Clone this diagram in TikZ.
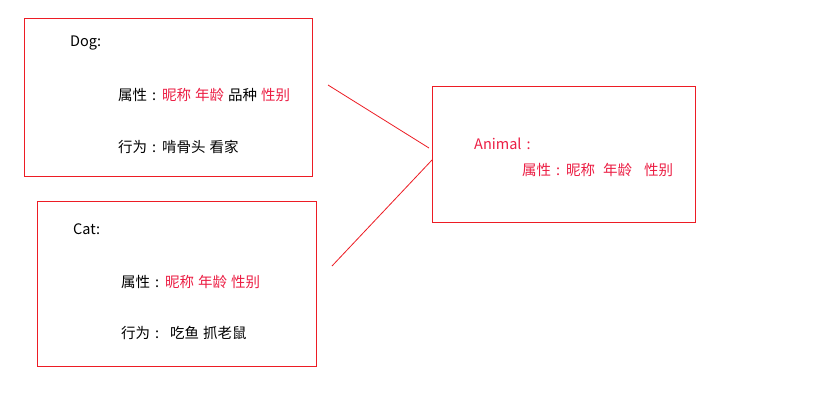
\documentclass[tikz,border=0pt]{standalone}
\usepackage{fontspec}
\setmainfont{Noto Sans CJK SC}
\usetikzlibrary{positioning}
\definecolor{boxred}{RGB}{237,28,36}
\definecolor{txtred}{RGB}{236,30,68}
\newcommand{\rd}[1]{\textcolor{txtred}{#1}}
\newcommand{\cn}{\hspace{5pt}:\hspace{6pt}}

\begin{document}
\begin{tikzpicture}[x=1pt,y=-1pt,
  class box/.style={draw=boxred,line width=1pt,anchor=north west,inner sep=0pt},
  label text/.style={anchor=west,inner sep=0pt,font=\fontsize{14.5}{17}\selectfont}]

  \useasboundingbox[fill=white] (0,0) rectangle (823,413);

  % class boxes
  \node[class box,minimum width=288pt,minimum height=158pt] (dog) at (24,18) {};
  \node[class box,minimum width=279pt,minimum height=165pt] (cat) at (37,201) {};
  \node[class box,minimum width=263pt,minimum height=136pt] (animal) at (432,86) {};

  % dog
  \node[label text] (dogname) at (70,43) {Dog:};
  \node[label text] (dogattr) at (118,95) {属性\cn\rd{昵称}\hspace{4pt}\rd{年龄}\hspace{4pt}品种\hspace{4pt}\rd{性别}};
  \node[label text] (dogact) at (118,147) {行为\cn 啃骨头\hspace{4pt}看家};

  % cat
  \node[label text] (catname) at (73,229) {Cat:};
  \node[label text] (catattr) at (121,282) {属性\cn\rd{昵称}\hspace{4pt}\rd{年龄}\hspace{4pt}\rd{性别}};
  \node[label text] (catact) at (121,333) {行为\cn\hspace{5pt}吃鱼\hspace{4pt}抓老鼠};

  % animal
  \node[label text,text=txtred] (animalname) at (474,144) {Animal\hspace{5pt}:};
  \node[label text,text=txtred] (animalattr) at (522,170) {属性\cn 昵称\hspace{8pt}年龄\hspace{12pt}性别};

  % connectors
  \coordinate (dogend) at (328,85);
  \coordinate (catend) at (332,266);
  \coordinate (topin) at (429,148);
  \coordinate (botin) at (432,160);
  \draw[boxred,line width=0.8pt] (dogend) -- (topin);
  \draw[boxred,line width=0.8pt] (catend) -- (botin);
\end{tikzpicture}
\end{document}
